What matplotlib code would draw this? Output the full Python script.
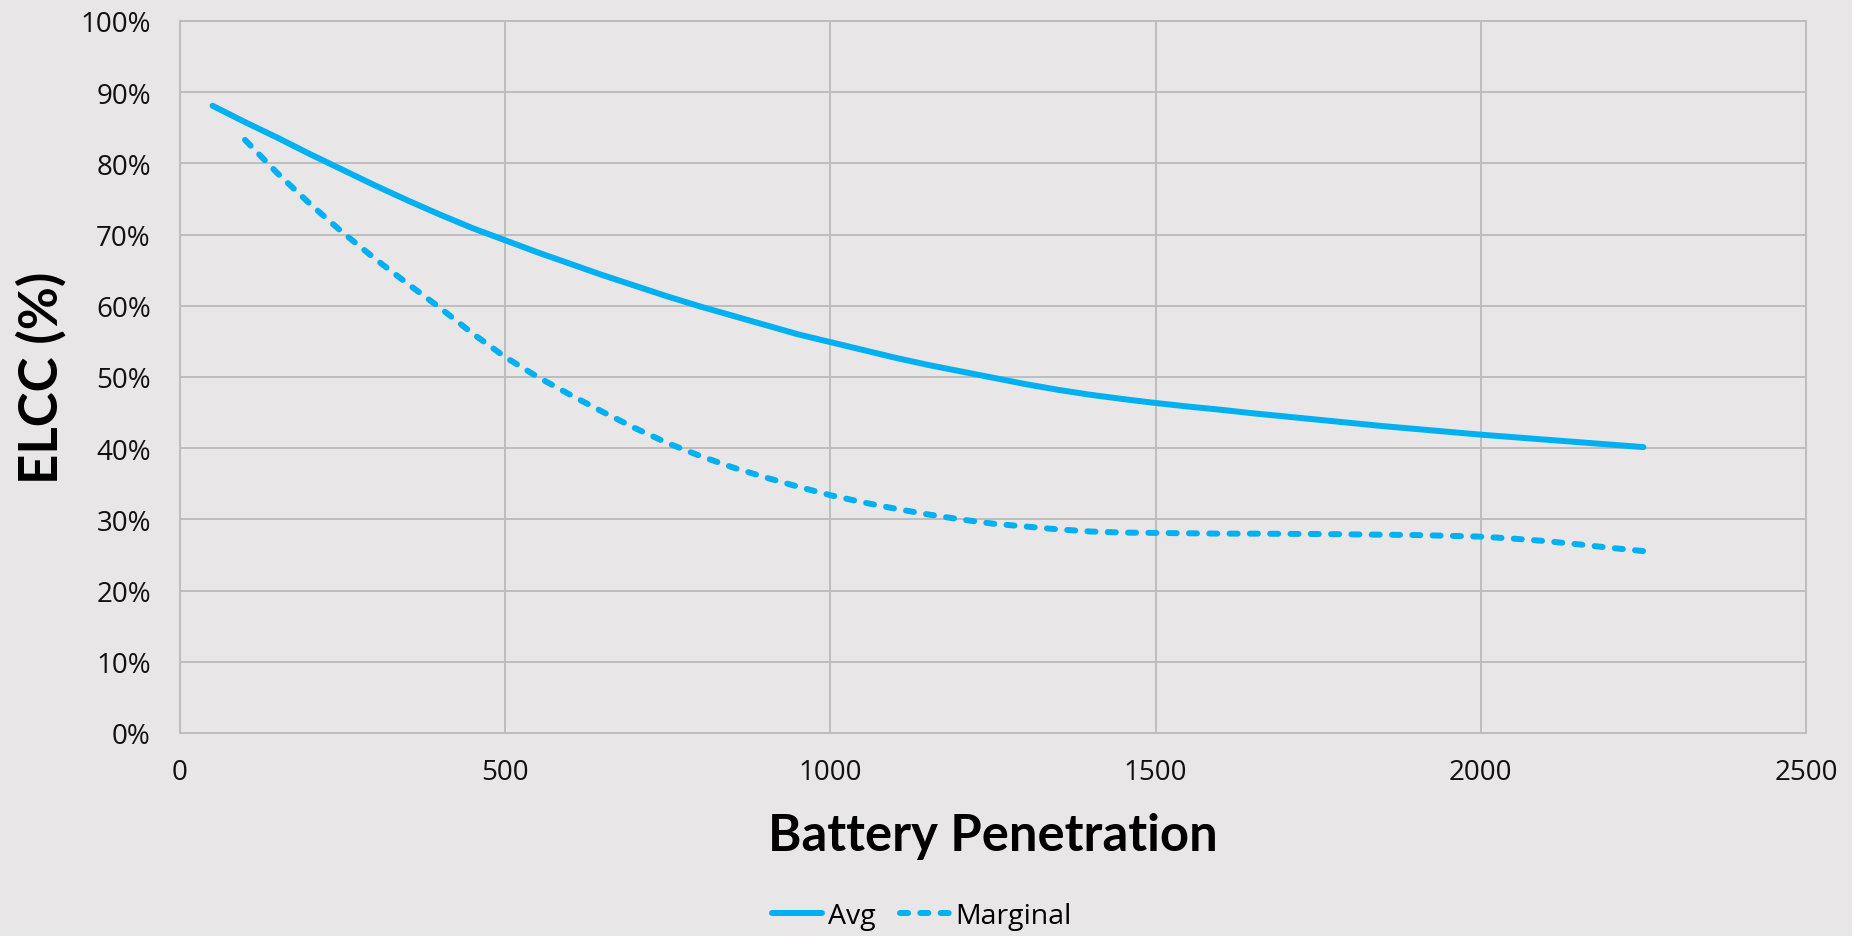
import matplotlib
matplotlib.use("Agg")
import matplotlib.pyplot as plt
from matplotlib.ticker import FuncFormatter, MultipleLocator

# Data
avg_x = [50, 100, 150, 200, 250, 300, 350, 400, 450, 500, 550, 600, 650, 700, 750,
         800, 850, 900, 950, 1000, 1050, 1100, 1150, 1200, 1250, 1300, 1350, 1400,
         1450, 1500, 1550, 1600, 1650, 1700, 1750, 1800, 1850, 1900, 1950, 2000,
         2050, 2100, 2150, 2200, 2250]
avg_y = [88.1, 85.8, 83.6, 81.3, 79.1, 76.9, 74.8, 72.8, 70.9, 69.2, 67.5, 65.9,
         64.3, 62.8, 61.3, 59.9, 58.6, 57.3, 56.0, 54.9, 53.8, 52.7, 51.7, 50.8,
         49.9, 49.0, 48.2, 47.5, 46.9, 46.35, 45.85, 45.4, 44.9, 44.45, 44.0, 43.55,
         43.1, 42.7, 42.3, 41.9, 41.55, 41.2, 40.85, 40.5, 40.15]

marg_x = [100, 150, 200, 250, 300, 350, 400, 450, 500, 550, 600, 650, 700, 750,
          800, 850, 900, 950, 1000, 1050, 1100, 1150, 1200, 1250, 1300, 1350, 1400,
          1450, 1500, 1550, 1600, 1650, 1700, 1750, 1800, 1850, 1900, 1950, 2000,
          2050, 2100, 2150, 2200, 2250]
marg_y = [83.3, 78.6, 74.3, 70.3, 66.6, 63.1, 59.7, 56.1, 52.8, 50.0, 47.5, 45.1,
          42.8, 40.7, 38.9, 37.3, 35.9, 34.6, 33.4, 32.4, 31.5, 30.7, 30.0, 29.4,
          29.0, 28.6, 28.3, 28.15, 28.1, 28.05, 28.0, 28.0, 27.97, 27.95, 27.9,
          27.85, 27.8, 27.7, 27.58, 27.3, 26.95, 26.5, 26.0, 25.55]

x_label = "Battery Penetration"
y_label = "ELCC (%)"
series_names = ["Avg", "Marginal"]

BG = "#E8E6E7"
LINE = "#00B0F0"
GRID = "#BDBDBD"

fig = plt.figure(figsize=(18.52, 9.37), dpi=100, facecolor=BG)
ax = fig.add_axes([180 / 1852, 1 - 734 / 937, (1806 - 180) / 1852, (734 - 22) / 937])
ax.set_facecolor(BG)

l1, = ax.plot(avg_x, avg_y, color=LINE, lw=4.3, solid_capstyle="round",
              solid_joinstyle="round", label=series_names[0])
l2, = ax.plot(marg_x, marg_y, color=LINE, lw=4.3, dash_capstyle="round",
              dash_joinstyle="round", linestyle=(0, (1.35, 2.05)), label=series_names[1])

ax.set_xlim(0, 2500)
ax.set_ylim(0, 100)
ax.xaxis.set_major_locator(MultipleLocator(500))
ax.yaxis.set_major_locator(MultipleLocator(10))
ax.yaxis.set_major_formatter(FuncFormatter(lambda v, p: f"{int(round(v))}%"))

ax.grid(True, color=GRID, lw=1.4)
ax.set_axisbelow(True)
for s in ax.spines.values():
    s.set_color(GRID)
    s.set_linewidth(1.4)

ax.tick_params(axis="both", length=0, labelsize=20, labelcolor="#111111")
ax.tick_params(axis="y", pad=21)
ax.tick_params(axis="x", pad=18)
for lab in ax.get_xticklabels() + ax.get_yticklabels():
    lab.set_fontfamily("Open Sans")

fig.text(993 / 1852, 1 - 836 / 937, x_label, ha="center", va="center",
         fontsize=36.5, fontweight="bold", family=["Lato", "DejaVu Sans"])
fig.text(41 / 1852, 1 - 378 / 937, y_label, ha="center", va="center", rotation=90,
         fontsize=38, fontweight="bold", family=["Lato", "DejaVu Sans"])

leg = fig.legend(handles=[l1, l2], loc="center", bbox_to_anchor=(922 / 1852, 1 - 917 / 937),
                 ncol=2, frameon=False, handlelength=1.75, handletextpad=0.2,
                 columnspacing=0.85, prop={"family": "Open Sans", "size": 20.5})

fig.savefig("out.png", dpi=100, facecolor=BG)
